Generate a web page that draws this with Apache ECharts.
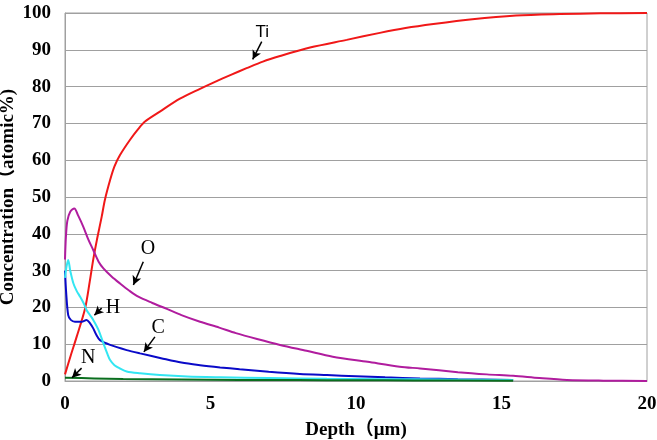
<!DOCTYPE html>
<html>
<head>
<meta charset="utf-8">
<script src="https://cdn.jsdelivr.net/npm/echarts@6/dist/echarts.min.js"></script>
<style>
  html, body { margin: 0; padding: 0; background: #fff; }
  #chart { width: 657px; height: 440px; }
</style>
</head>
<body>
<div id="chart"></div>
<script>
// depth (um) / concentration (atomic%)
var tiData = [[0,1.8],[0.2,7],[0.4,12],[0.69,19.7],[0.85,27],[0.97,33],[1.1,38.5],[1.26,44.6],[1.37,49.2],
  [1.55,54.6],[1.7,58.3],[1.89,61.4],[2.23,65.5],[2.5,68.3],[2.75,70.5],[3.26,73.2],[3.95,76.7],[4.64,79.4],
  [5.1,81.1],[5.7,83.2],[6.24,85.0],[6.8,86.8],[7.39,88.3],[8.42,90.6],[9.68,92.7],[10.82,94.6],[11.7,95.9],
  [12.66,97.0],[14,98.3],[15.5,99.3],[17,99.7],[18.4,99.9],[20,100]];
var oData = [[0,33],[0.03,39],[0.08,43.5],[0.18,46],[0.32,46.9],[0.45,45],[0.63,41.9],[0.8,38.5],[0.97,35.6],
  [1.15,32.5],[1.32,30.6],[1.6,28.4],[1.89,26.5],[2.2,24.6],[2.52,22.9],[3,21.2],[3.5,19.6],[4,17.9],
  [4.64,16.1],[5.3,14.5],[5.87,13.0],[6.6,11.4],[7.39,9.8],[8.3,8.2],[9.2,6.6],[10.4,5.2],[11.5,3.9],
  [12.2,3.4],[13.5,2.4],[14.5,1.8],[15.4,1.4],[16.3,0.8],[17.25,0.3],[18.5,0.1],[20,0]];
var cData = [[0,30],[0.04,24],[0.11,17.9],[0.2,16.6],[0.34,16.1],[0.57,16.1],[0.74,16.6],[0.85,15.8],
  [0.97,14.3],[1.08,12.5],[1.2,11.1],[1.55,9.8],[2.12,8.4],[2.58,7.5],[3.3,6.2],[4.0,5.0],[4.64,4.3],
  [5.33,3.7],[6.0,3.2],[7.0,2.5],[8.07,1.9],[9.0,1.6],[10,1.3],[11,1.0],[12.2,0.7],[13.5,0.5],[15.4,0.3]];
var hData = [[0,28],[0.05,31],[0.11,32.9],[0.18,30],[0.29,26.5],[0.4,24.5],[0.52,22.9],[0.65,21],[0.74,19.3],
  [0.85,18],[0.97,16.6],[1.15,13.9],[1.32,10.2],[1.45,7.5],[1.55,5.7],[1.7,4.3],[1.89,3.4],[2.12,2.6],
  [2.58,2.1],[3.26,1.6],[4.2,1.2],[5.33,1.0],[7,0.8],[9,0.6],[11,0.5],[13,0.4],[15.4,0.3]];
var nData = [[0,0.9],[1,0.7],[2,0.55],[4,0.4],[6,0.3],[8,0.25],[10,0.2],[12,0.15],[15.4,0.1]];

var yTicks = [0, 10, 20, 30, 40, 50, 60, 70, 80, 90, 100];
var xTicks = [0, 5, 10, 15, 20];

// label position and arrow (from, to) in data units
var notes = [
  { name: 'Ti', at: [6.78, 94.8], from: [6.76, 92.2], to: [6.45, 87.4] },
  { name: 'O',  at: [2.85, 36.0], from: [2.69, 32.4], to: [2.35, 26.1] },
  { name: 'H',  at: [1.65, 19.9], from: [1.26, 19.8], to: [1.01, 17.9] },
  { name: 'C',  at: [3.2, 14.4],  from: [3.09, 12.0], to: [2.71, 7.9] },
  { name: 'N',  at: [0.8, 6.4],   from: [0.57, 3.5],  to: [0.24, 0.9] }
];

var serif = '"Liberation Serif", "Times New Roman", "Noto Sans CJK JP", serif';

function noteOf(name) {
  for (var i = 0; i < notes.length; i++) if (notes[i].name === name) return notes[i];
}

function makeSeries(name, data, color) {
  var n = noteOf(name);
  return {
    name: name,
    type: 'line',
    data: data,
    showSymbol: false,
    smooth: 0.3,
    lineStyle: { color: color, width: 2 },
    itemStyle: { color: color },
    silent: true,
    markLine: {
      silent: true,
      animation: false,
      symbol: ['none', 'arrow'],
      symbolSize: [7, 9],
      label: { show: false },
      lineStyle: { color: '#000', width: 1.5, type: 'solid' },
      data: [[{ coord: n.from }, { coord: n.to }]]
    },
    markPoint: {
      silent: true,
      animation: false,
      symbol: 'circle',
      symbolSize: 1,
      itemStyle: { color: 'rgba(0,0,0,0)' },
      label: {
        show: true,
        position: 'inside',
        formatter: name,
        color: '#000',
        fontFamily: name === 'Ti' ? '"Liberation Sans", Arial, sans-serif' : serif,
        fontSize: name === 'Ti' ? 17 : 20
      },
      data: [{ coord: n.at }]
    }
  };
}

var chart = echarts.init(document.getElementById('chart'));
chart.setOption({
  animation: false,
  backgroundColor: '#fff',
  grid: {
    left: 65, right: 10, top: 13, bottom: 59,
    outerBoundsMode: 'none', containLabel: false,
    show: true, borderColor: '#a0a0a0', borderWidth: 1
  },
  xAxis: {
    type: 'value',
    min: xTicks[0], max: xTicks[xTicks.length - 1], interval: 5,
    name: 'Depth（μm)',
    nameLocation: 'middle',
    nameGap: 40,
    nameMoveOverlap: false,
    nameTextStyle: { fontFamily: serif, fontWeight: 'bold', fontSize: 19, color: '#000' },
    axisLine: { lineStyle: { color: '#a0a0a0' } },
    axisTick: { show: false },
    splitLine: { show: false },
    axisLabel: { margin: 14, fontFamily: serif, fontWeight: 'bold', fontSize: 19, color: '#000' }
  },
  yAxis: {
    type: 'value',
    min: yTicks[0], max: yTicks[yTicks.length - 1], interval: 10,
    name: 'Concentration（atomic%)',
    nameLocation: 'middle',
    nameGap: 47,
    nameMoveOverlap: false,
    nameTextStyle: { fontFamily: serif, fontWeight: 'bold', fontSize: 19, color: '#000' },
    axisLine: { show: true, lineStyle: { color: '#a0a0a0' } },
    axisTick: { show: false },
    splitLine: { lineStyle: { color: '#a0a0a0', width: 1 } },
    axisLabel: { margin: 14, fontFamily: serif, fontWeight: 'bold', fontSize: 19, color: '#000' }
  },
  series: [
    makeSeries('Ti', tiData, '#f01818'),
    makeSeries('O', oData, '#b01c9e'),
    makeSeries('C', cData, '#0a0ac8'),
    makeSeries('H', hData, '#33e6f2'),
    makeSeries('N', nData, '#0a6e1e')
  ]
});
</script>
</body>
</html>
